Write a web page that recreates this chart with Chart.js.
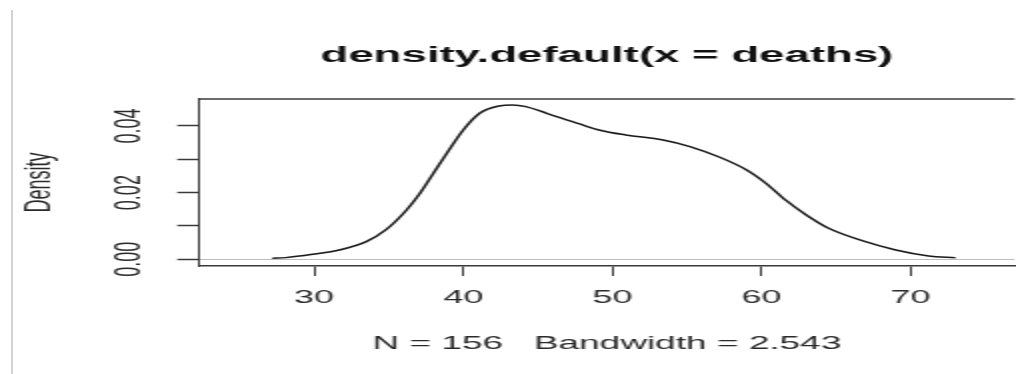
<!DOCTYPE html>
<html>
<head>
<meta charset="utf-8">
<script src="https://cdn.jsdelivr.net/npm/chart.js@4"></script>
<style>
  html, body { margin: 0; padding: 0; background: #fff; overflow: hidden; }
  /* the reference picture is stretched about 2x sideways, so draw narrow and widen it */
  #wrap { position: absolute; left: 0; top: 0; width: 508px; height: 374px; transform: scaleX(2); transform-origin: 0 0; }
  #edge { position: absolute; left: 11px; top: 10px; width: 2px; height: 364px; background: #d2d2d2; }
</style>
</head>
<body>
<div id="edge"></div>
<div id="wrap"><canvas id="dens"></canvas></div>
<script>
// density estimate
const deaths = [27.2, 28.1, 29.9, 31.7, 33.5, 34.8, 36.2, 37.1, 38.0, 38.9, 40.0, 41.1, 42.4, 43.3, 44.2, 45.6,
  47.8, 49.1, 50.9, 53.4, 55.2, 57.2, 59.0, 60.3, 61.6, 63.0, 64.5, 66.8, 69.0, 71.2, 73.0];
const density = [0.0003, 0.0005, 0.0015, 0.0028, 0.0053, 0.0088, 0.0148, 0.0198, 0.0258, 0.0318, 0.0388, 0.0438,
  0.0460, 0.0463, 0.0458, 0.0438, 0.0406, 0.0388, 0.0373, 0.0358, 0.0338, 0.0306, 0.0268, 0.0228, 0.0178, 0.0133,
  0.0093, 0.0055, 0.0028, 0.0010, 0.0005];

const xTicks = [30, 40, 50, 60, 70];
const xTickLabels = ['30', '40', '50', '60', '70'];
const yTicks = [0, 0.01, 0.02, 0.03, 0.04];
const yTickLabels = ['0.00', '', '0.02', '', '0.04'];

const mainTitle = 'density.default(x = deaths)';
const subTitle = 'N = 156   Bandwidth = 2.543';
const yTitle = 'Density';

const FONT = "'Liberation Sans', Arial, sans-serif";
const axisCol = '#3a3a3a';
const textCol = '#2a2a2a';

// R draws a closed box; only the top side is missing from the axes
const boxTop = {
  id: 'boxTop',
  afterDatasetsDraw(chart) {
    const { ctx, chartArea: a } = chart;
    ctx.save();
    ctx.strokeStyle = axisCol;
    ctx.lineWidth = 1.5;
    ctx.beginPath();
    ctx.moveTo(a.left, a.top);
    ctx.lineTo(a.right, a.top);
    ctx.stroke();
    ctx.restore();
  }
};

new Chart(document.getElementById('dens'), {
  type: 'line',
  data: {
    datasets: [{
      data: deaths.map((x, i) => ({ x: x, y: density[i] })),
      borderColor: '#1a1a1a',
      borderWidth: 1.5,
      pointRadius: 0,
      fill: false,
      cubicInterpolationMode: 'monotone'
    }]
  },
  plugins: [boxTop],
  options: {
    responsive: true,
    maintainAspectRatio: false,
    animation: false,
    layout: { padding: 0 },
    plugins: {
      legend: { display: false },
      tooltip: { enabled: false },
      title: {
        display: true,
        text: mainTitle,
        fullSize: false,
        color: '#111',
        font: { family: FONT, size: 22.8, weight: 'bold' },
        padding: { top: 41.7, bottom: 29.9 }
      }
    },
    scales: {
      x: {
        type: 'linear',
        min: 22.3,
        max: 76.96,
        afterBuildTicks: s => { s.ticks = xTicks.map(v => ({ value: v })); },
        afterFit: s => { s.height = 108; },
        grid: { drawOnChartArea: false, tickLength: 10, tickColor: axisCol, tickWidth: 1 },
        border: { color: axisCol, width: 1.5 },
        ticks: {
          autoSkip: false,
          maxRotation: 0,
          padding: 11.5,
          color: textCol,
          font: { family: FONT, size: 18 },
          callback: (v, i) => xTickLabels[i]
        },
        title: {
          display: true,
          text: subTitle,
          color: textCol,
          font: { family: FONT, size: 18.5 },
          padding: { top: 0, bottom: 18.6 }
        }
      },
      y: {
        min: -0.00201,
        max: 0.0481,
        afterBuildTicks: s => { s.ticks = yTicks.map(v => ({ value: v })); },
        afterFit: s => { s.width = 99.65; },
        grid: {
          drawOnChartArea: true,
          color: c => (c.tick && c.tick.value === 0 ? '#bdbdbd' : 'rgba(0,0,0,0)'),
          lineWidth: 1,
          tickLength: 11,
          tickColor: axisCol,
          tickWidth: 1.5
        },
        border: { color: axisCol, width: 1 },
        ticks: {
          autoSkip: false,
          minRotation: 90,
          maxRotation: 90,
          crossAlign: 'center',
          padding: 6.15,
          color: textCol,
          font: { family: FONT, size: 18 },
          callback: (v, i) => yTickLabels[i]
        },
        title: {
          display: true,
          text: yTitle,
          color: textCol,
          font: { family: FONT, size: 18 },
          padding: { top: 9.2, bottom: 0 }
        }
      }
    }
  }
});
</script>
</body>
</html>
